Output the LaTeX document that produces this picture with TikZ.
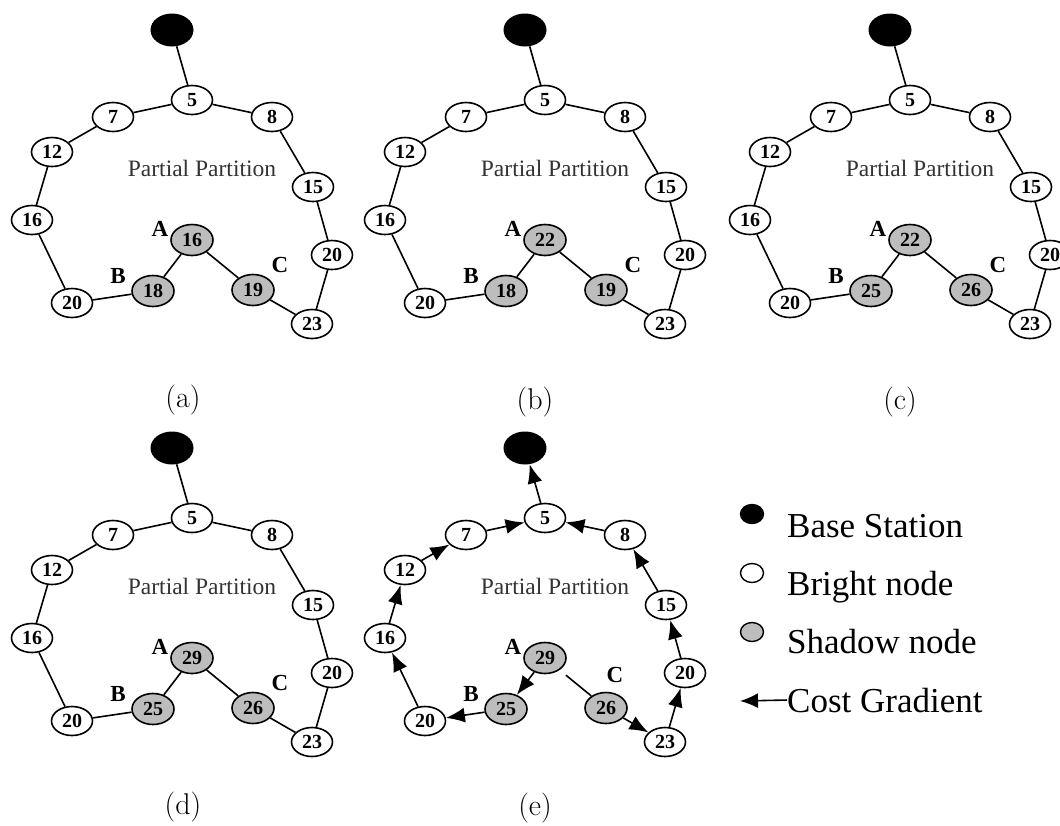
\documentclass[tikz,border=0pt]{standalone}
\usepackage{fontspec}
\newfontfamily\tnr{Liberation Serif}
\usetikzlibrary{shapes.geometric,arrows.meta}

% Nodes of one partition ring: #1 = value at A, #2 = value at B, #3 = value at C,
% #4 = position of the C tag
\newcommand\ringnodes[4]{%
  \node[basest] (bs)   at (172,30)  {};
  \node[bright] (n5)   at (192,100) {5};
  \node[bright] (n7)   at (113,117) {7};
  \node[bright] (n8)   at (272,117) {8};
  \node[bright] (n12)  at (52,152)  {12};
  \node[bright] (n15)  at (313,187) {15};
  \node[bright] (n16)  at (32,220)  {16};
  \node[shadow] (A)    at (192,240) {#1};
  \node[bright] (n20r) at (332,255) {20};
  \node[shadow] (B)    at (153,291) {#2};
  \node[shadow] (C)    at (253,290) {#3};
  \node[bright] (n20b) at (72,303)  {20};
  \node[bright] (n23)  at (312,324) {23};
  \node[region] (pp)   at (202,168) {Partial Partition};
  \node[tag] (tA) at (160,229) {A};
  \node[tag] (tB) at (118,276) {B};
  \node[tag] (tC) at #4 {C};
}

% Plain links of a ring
\newcommand\ringlinks{%
  \draw[link] (bs) -- (n5) (n5) -- (n7) (n7) -- (n12) (n12) -- (n16)
    (n16) -- (n20b) (n20b) -- (B) (B) -- (A) (A) -- (C) (C) -- (n23)
    (n23) -- (n20r) (n20r) -- (n15) (n15) -- (n8) (n8) -- (n5);
}

\begin{document}
\begin{tikzpicture}[x=1pt,y=-1pt,
  sensor/.style={ellipse, draw, line width=1.6pt, minimum width=41pt,
    minimum height=29pt, inner sep=0pt,
    font=\tnr\bfseries\fontsize{20}{20}\selectfont},
  bright/.style={sensor, fill=white},
  shadow/.style={sensor, fill=black!26, minimum width=42pt, minimum height=31pt},
  basest/.style={ellipse, fill=black, minimum width=43pt, minimum height=33pt,
    inner sep=0pt},
  link/.style={line width=1.6pt},
  grad/.style={link, -{Latex[length=19pt,width=15pt]}},
  tag/.style={font=\tnr\bfseries\fontsize{23}{23}\selectfont, inner sep=0pt},
  region/.style={font=\tnr\fontsize{23.5}{23.5}\selectfont, text=black!80, inner sep=0pt},
  caption/.style={font=\fontsize{30}{30}\selectfont, inner sep=0pt},
  legtext/.style={font=\tnr\fontsize{35}{35}\selectfont, anchor=base west,
    inner sep=0pt},
  legdot/.style={ellipse, draw, line width=1.4pt, minimum width=23pt,
    minimum height=19pt, inner sep=0pt}]

\useasboundingbox (0,0) rectangle (1060,825);

% (a)
\begin{scope}[name prefix=a-]
  \ringnodes{16}{18}{19}{(280,265)}
  \ringlinks
\end{scope}
\node[caption] (capa) at (183,400) {(a)};

% (b)
\begin{scope}[shift={(353,0)}, name prefix=b-]
  \ringnodes{22}{18}{19}{(280,265)}
  \ringlinks
\end{scope}
\node[caption] (capb) at (535,402) {(b)};

% (c)
\begin{scope}[shift={(718,0)}, name prefix=c-]
  \ringnodes{22}{25}{26}{(280,265)}
  \ringlinks
\end{scope}
\node[caption] (capc) at (900,402) {(c)};

% (d)
\begin{scope}[shift={(0,418)}, name prefix=d-]
  \ringnodes{29}{25}{26}{(280,265)}
  \ringlinks
\end{scope}
\node[caption] (capd) at (183,807) {(d)};

% (e) cost gradient towards the base station
\begin{scope}[shift={(353,418)}, name prefix=e-]
  \ringnodes{29}{25}{26}{(262,257)}
  \draw[grad] (n5) -- (bs);
  \draw[grad] (n7) -- (n5);
  \draw[grad] (n8) -- (n5);
  \draw[grad] (n12) -- (n7);
  \draw[grad] (n16) -- (n12);
  \draw[grad] (n20b) -- (n16);
  \draw[grad] (B) -- (n20b);
  \draw[grad] (A) -- (B);
  \draw[grad] (C) -- (n23);
  \draw[grad] (n23) -- (n20r);
  \draw[grad] (n20r) -- (n15);
  \draw[grad] (n15) -- (n8);
  \draw[link, shorten <=8pt] (A) -- (C);
\end{scope}
\node[caption] (cape) at (535,808) {(e)};

% legend
\node[legdot, fill=black] (lg1) at (752,514) {};
\node[legdot, fill=white] (lg2) at (752,573) {};
\node[legdot, fill=black!26] (lg3) at (752,632) {};
\node[legtext] (lt1) at (787,537) {Base Station};
\node[legtext] (lt2) at (787,595) {Bright node};
\node[legtext] (lt3) at (787,653) {Shadow node};
\node[legtext] (lt4) at (787,712) {Cost Gradient};
\coordinate (cgtip) at (740,701);
\draw[link, -{Latex[length=18pt,width=15pt]}] (lt4.west) -- (cgtip);

\end{tikzpicture}
\end{document}
